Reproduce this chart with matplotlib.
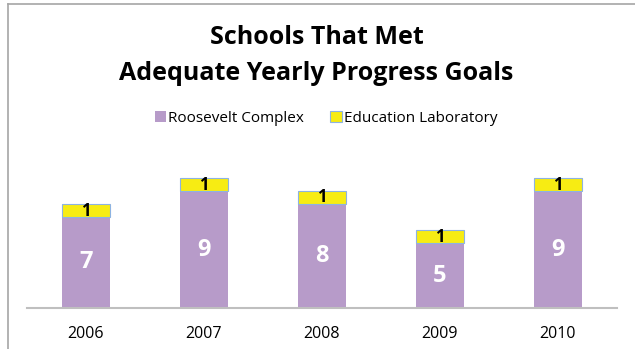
import matplotlib.pyplot as plt
from matplotlib.lines import Line2D

plt.rcParams['font.family'] = ['Open Sans', 'DejaVu Sans']

years = ['2006', '2007', '2008', '2009', '2010']
roosevelt = [7, 9, 8, 5, 9]
edu_lab = [1, 1, 1, 1, 1]

purple = '#B79BC9'
yellow = '#F7EC13'

fig = plt.figure(figsize=(6.35, 3.49), dpi=100)
ax = fig.add_axes([27 / 635, 41 / 349, 590 / 635, 156 / 349])

x = range(len(years))
b1 = ax.bar(x, roosevelt, width=0.4, color=purple, label='Roosevelt Complex')
b2 = ax.bar(x, edu_lab, width=0.4, bottom=roosevelt, color=yellow,
            edgecolor='#8DB3E2', linewidth=0.8, label='Education Laboratory')

for rect, v in zip(b1, roosevelt):
    ax.text(rect.get_x() + rect.get_width() / 2, v / 2, str(v),
            ha='center', va='center', color='white', fontsize=17, fontweight='bold')
for rect, base, v in zip(b2, roosevelt, edu_lab):
    ax.text(rect.get_x() + rect.get_width() / 2, base + v / 2, str(v),
            ha='center', va='center', color='black', fontsize=12, fontweight='bold')

ax.set_xlim(-0.5, len(years) - 0.5)
ax.set_ylim(0, 12)
ax.set_xticks(list(x))
ax.set_xticklabels(years, fontsize=11.5)
ax.tick_params(axis='x', length=0, pad=13)
ax.set_yticks([])
for s in ['top', 'right', 'left']:
    ax.spines[s].set_visible(False)
ax.spines['bottom'].set_color('#BFBFBF')
ax.spines['bottom'].set_linewidth(1.5)

fig.text(317 / 635, 1 - 37 / 349, 'Schools That Met', ha='center', va='center',
         fontsize=18, fontweight='bold')
fig.text(316 / 635, 1 - 73 / 349, 'Adequate Yearly Progress Goals', ha='center', va='center',
         fontsize=18, fontweight='bold')

fig.legend(handles=[b1, b2], loc='center', bbox_to_anchor=(326 / 635, 1 - 118 / 349),
           ncol=2, frameon=False, fontsize=11, handlelength=0.75, handleheight=0.7,
           handletextpad=0.15, columnspacing=1.7)

# chart frame (left and top edges)
fig.add_artist(Line2D([8 / 635, 8 / 635], [0, 1 - 4 / 349], transform=fig.transFigure,
                      color='#A6A6A6', linewidth=1.2))
fig.add_artist(Line2D([8 / 635, 1], [1 - 4 / 349, 1 - 4 / 349], transform=fig.transFigure,
                      color='#A6A6A6', linewidth=1.2))

fig.savefig('out.png', dpi=100)
